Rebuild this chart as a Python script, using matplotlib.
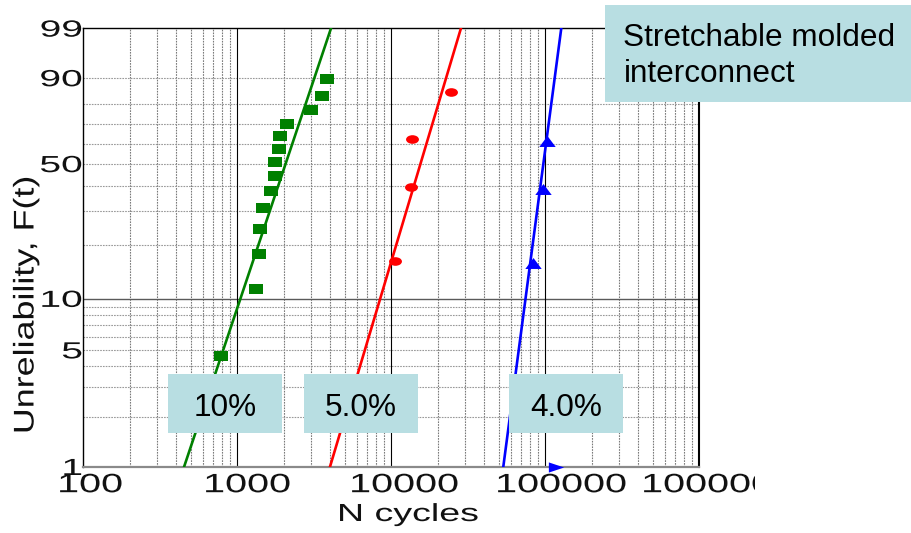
import numpy as np
import matplotlib
matplotlib.use("Agg")
import matplotlib.pyplot as plt
from matplotlib.path import Path
from matplotlib.patches import Rectangle
from matplotlib.patheffects import AbstractPathEffect
from matplotlib.ticker import NullLocator
from matplotlib.transforms import Affine2D, ScaledTranslation, Bbox, TransformedBbox

W, H, DPI = 912, 533, 100

# ---- failure data: cycles to failure and median-rank unreliability (%) ----
green_cycles = [784, 1313, 1377, 1398, 1475, 1655, 1749, 1749, 1874, 1885, 2094, 3023, 3564, 3841]
green_F = [4.6, 11.3, 17.9, 24.4, 31.0, 37.6, 44.2, 50.8, 57.3, 63.8, 70.3, 76.8, 83.2, 89.7]

red_cycles = [10570, 13330, 13570, 24530]
red_F = [16.4, 39.5, 62.6, 85.0]

blue_cycles = [82820, 96180, 102570]
blue_F = [15.9, 38.6, 61.2]
blue_suspended_cycles = [116800]
blue_suspended_F = [1.0]

# ---- Weibull fits: shape (beta) and characteristic life (eta) ----
fit_beta = [2.79, 3.13, 7.07]
fit_eta = [2348, 17390, 102300]
fit_colors = ["#008000", "#ff0000", "#0000ff"]

strain_labels = ["10%", "5.0%", "4.0%"]
title_lines = ["Stretchable molded", "interconnect"]

x_ticks = [100, 1000, 10000, 100000, 1000000]
x_tick_labels = ["100", "1000", "10000", "100000", "1000000"]
y_ticks = [1, 5, 10, 50, 90, 99]
y_tick_labels = ["1", "5", "10", "50", "90", "99"]
y_grid = [1, 2, 3, 4, 5, 6, 7, 8, 9, 10, 20, 30, 40, 50, 60, 70, 80, 90, 99]

FONT = "Liberation Sans"


def weibull_fwd(f):
    f = np.asarray(f, dtype=float)
    with np.errstate(all="ignore"):
        return np.log(-np.log(1.0 - f / 100.0))


def weibull_inv(w):
    w = np.asarray(w, dtype=float)
    with np.errstate(all="ignore"):
        return 100.0 * (1.0 - np.exp(-np.exp(w)))


class Widen(AbstractPathEffect):
    """Draw text glyphs stretched along the text direction."""

    def __init__(self, sx, anchor="center"):
        super().__init__()
        self.sx = sx
        self.anchor = anchor

    def draw_path(self, renderer, gc, tpath, affine, rgbFace=None):
        ext = tpath.get_extents()
        if self.anchor == "left":
            x0 = ext.x0
        elif self.anchor == "right":
            x0 = ext.x1
        else:
            x0 = 0.5 * (ext.x0 + ext.x1)
        pre = Affine2D().translate(-x0, 0).scale(self.sx, 1.0).translate(x0, 0)
        renderer.draw_path(gc, tpath, pre + affine, rgbFace)


def px_offset(dx, dy):
    return ScaledTranslation(dx / DPI, -dy / DPI, fig.dpi_scale_trans)


# wide marker shapes
rect_marker = Path([(-0.72, -0.5), (0.72, -0.5), (0.72, 0.5), (-0.72, 0.5), (-0.72, -0.5)],
                   closed=True)
oval_marker = Path.unit_circle().transformed(Affine2D().scale(1.5, 1.0))
tri_up_marker = Path([(-0.75, -0.5), (0.75, -0.5), (0.0, 0.5), (-0.75, -0.5)], closed=True)
tri_right_marker = Path([(-0.75, -0.5), (0.75, 0.0), (-0.75, 0.5), (-0.75, -0.5)], closed=True)

fig = plt.figure(figsize=(W / DPI, H / DPI), dpi=DPI)
fig.patch.set_facecolor("white")

ax_l, ax_r, ax_t, ax_b = 83.3, 699.3, 28.3, 466.7
ax = fig.add_axes([ax_l / W, (H - ax_b) / H, (ax_r - ax_l) / W, (ax_b - ax_t) / H])
ax.set_xscale("log")
ax.set_yscale("function", functions=(weibull_fwd, weibull_inv))
ax.set_xlim(100, 1e6)
ax.set_ylim(1, 99)
for axis in (ax.xaxis, ax.yaxis):
    axis.set_major_locator(NullLocator())
    axis.set_minor_locator(NullLocator())
ax.tick_params(which="both", length=0)

# ---- grid ----
for decade in [100, 1000, 10000, 100000]:
    for k in range(2, 10):
        ax.axvline(k * decade, color="#7a7a7a", lw=0.8, ls=(0, (1.5, 1.0)), zorder=1)
for x in x_ticks[1:-1]:
    ax.axvline(x, color="black", lw=0.8, zorder=1.2)
for f in y_grid:
    if f == 10:
        ax.axhline(f, color="#5a5a5a", lw=1.0, zorder=1.1)
    elif f not in (1, 99):
        ax.axhline(f, color="#999999", lw=0.8, ls=(0, (1.5, 1.0)), zorder=1)

ax.spines["left"].set_linewidth(1.0)
ax.spines["top"].set_linewidth(1.0)
ax.spines["right"].set_linewidth(1.5)
ax.spines["bottom"].set_color("#8a8a8a")
ax.spines["bottom"].set_linewidth(1.6)

# ---- Weibull fit lines ----
F_line = np.array([0.5, 99.9])
for beta, eta, color in zip(fit_beta, fit_eta, fit_colors):
    n_line = eta * (-np.log(1.0 - F_line / 100.0)) ** (1.0 / beta)
    ax.plot(n_line, F_line, color=color, lw=1.9, zorder=3)

# ---- data points ----
ax.plot(green_cycles, green_F, ls="none", marker=rect_marker, ms=9.6,
        color="#008000", mec="#008000", mew=0, zorder=4)
ax.plot(red_cycles, red_F, ls="none", marker=oval_marker, ms=9.3,
        color="#ff0000", mec="#ff0000", mew=0, zorder=4)
ax.plot(blue_cycles, blue_F, ls="none", marker=tri_up_marker, ms=11.8,
        color="#0000ff", mec="#0000ff", mew=0, zorder=4)
ax.plot(blue_suspended_cycles, blue_suspended_F, ls="none", marker=tri_right_marker,
        ms=11.0, color="#0000ff", mec="#0000ff", mew=0, zorder=4, clip_on=False)

# ---- tick labels ----
label_clip = TransformedBbox(Bbox.from_extents(0, 0, 755 / W, 1), fig.transFigure)
for x, lab in zip(x_ticks, x_tick_labels):
    t = fig.text(x, 0, lab, transform=ax.get_xaxis_transform() + px_offset(-1.2 - 8.0 * len(lab), 25.5),
                 ha="left", va="baseline", fontsize=19.1, family=FONT, color="#111111",
                 path_effects=[Widen(1.49, "left")])
    t.set_clip_box(label_clip)
    t.set_clip_on(True)

for f, lab in zip(y_ticks, y_tick_labels):
    fig.text(0, f, lab, transform=ax.get_yaxis_transform() + px_offset(-1.0, 8.3),
             ha="right", va="baseline", fontsize=16.8, family=FONT, color="#111111",
             path_effects=[Widen(1.67, "right")])

# ---- axis titles ----
ax.set_xlabel("N cycles", fontsize=17.8, family=FONT, color="#111111",
              ha="left", va="baseline", path_effects=[Widen(1.52, "left")])
ax.xaxis.set_label_coords((338 - ax_l) / (ax_r - ax_l), (ax_b - 521) / (ax_b - ax_t))
ax.set_ylabel("Unreliability, F(t)", fontsize=20.5, family=FONT, color="#111111",
              ha="center", va="baseline", rotation_mode="anchor",
              path_effects=[Widen(1.26, "center")])
ax.yaxis.set_label_coords((33.5 - ax_l) / (ax_r - ax_l), (ax_b - 305) / (ax_b - ax_t))

# ---- annotation boxes ----
BOX = "#b8dee2"


def fig_box(x0, y0, x1, y1):
    fig.add_artist(Rectangle((x0 / W, 1 - y1 / H), (x1 - x0) / W, (y1 - y0) / H,
                             transform=fig.transFigure, facecolor=BOX, edgecolor="none",
                             zorder=4))


fig_box(605, 5, 912, 101.7)
for line, base in zip(title_lines, [45.5, 82.5]):
    fig.text(623.5 / W, 1 - base / H, line, ha="left", va="baseline", fontsize=22.7,
             family=FONT, color="black", zorder=5)

for lab, (x0, x1) in zip(strain_labels, [(168, 282), (304, 418), (509, 623)]):
    fig_box(x0, 374, x1, 433)
    fig.text(0.5 * (x0 + x1) / W, 1 - 416.5 / H, lab, ha="center", va="baseline",
             fontsize=22.7, family=FONT, color="black", zorder=5)

fig.savefig("out.png", dpi=DPI)
